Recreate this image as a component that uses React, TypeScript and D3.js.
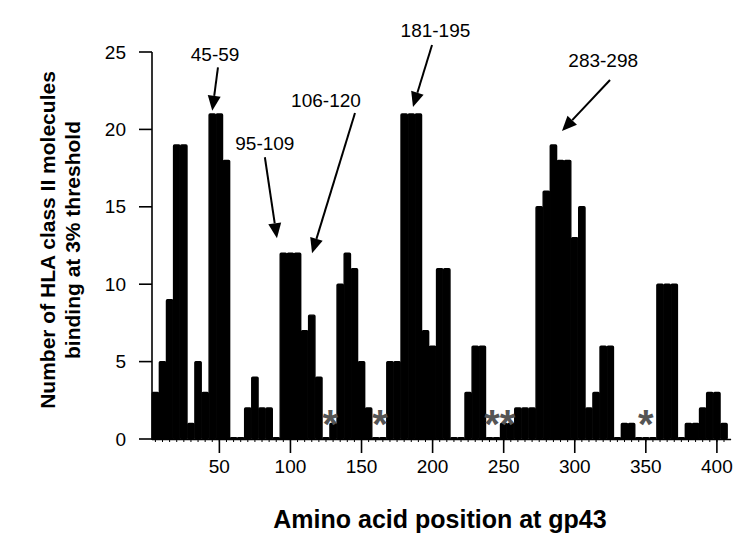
import * as d3 from "d3";

// ── Data: peptide start positions (every 5 aa) and binding counts ──
const positions = [
  5, 10, 15, 20, 25, 30, 35, 40, 45, 50, 55, 60, 65, 70, 75, 80, 85, 90, 95, 100,
  105, 110, 115, 120, 125, 130, 135, 140, 145, 150, 155, 160, 165, 170, 175, 180,
  185, 190, 195, 200, 205, 210, 215, 220, 225, 230, 235, 240, 245, 250, 255, 260,
  265, 270, 275, 280, 285, 290, 295, 300, 305, 310, 315, 320, 325, 330, 335, 340,
  345, 350, 355, 360, 365, 370, 375, 380, 385, 390, 395, 400, 405,
];
const counts = [
  3, 5, 9, 19, 19, 1, 5, 3, 21, 21, 18, 0, 0, 2, 4, 2, 2, 0, 12, 12,
  12, 7, 8, 4, 0, 1, 10, 12, 11, 5, 2, 0, 0, 5, 5, 21,
  21, 21, 7, 6, 11, 11, 0, 0, 3, 6, 6, 0, 0, 1, 1, 2,
  2, 2, 15, 16, 19, 18, 18, 13, 15, 2, 3, 6, 6, 0, 1, 1,
  0, 0, 0, 10, 10, 10, 0, 1, 1, 2, 3, 3, 1,
];
// asterisks (no binding peptide) at these positions
const starPositions = [128, 163, 241.8, 252.8, 350];

const xTicks = [50, 100, 150, 200, 250, 300, 350, 400];
const yTicks = [0, 5, 10, 15, 20, 25];

// annotated peptides: label, text anchor, arrow start and tip (data units)
const peptideLabels = ["45-59", "95-109", "106-120", "181-195", "283-298"];
const labelAt = [[47, 24.4], [82, 18.7], [125, 21.45], [202, 25.97], [320, 24.03]];
const arrowFrom = [[49, 24.0], [82, 18.2], [145.4, 21.06], [199.6, 25.45], [324.8, 23.19]];
const arrowTo = [[45, 21.2], [90.5, 12.97], [115.2, 12.0], [186.2, 21.44], [291, 19.89]];

// ── Layout ──
const W = 745;
const H = 544;
const X0 = 152;      // y axis line
const BASE = 439;    // x axis baseline
const FONT = "'Liberation Sans', Arial, Helvetica, sans-serif";
const STEP = 5;

const x = d3.scaleLinear().domain([0, 410]).range([148.3, 148.3 + 1.4215 * 410]);
const y = d3.scaleLinear().domain([0, 25]).range([BASE, 52]);

function Arrow({ from, to }: { from: number[]; to: number[] }) {
  const x1 = x(from[0]), y1 = y(from[1]);
  const x2 = x(to[0]), y2 = y(to[1]);
  const ang = Math.atan2(y2 - y1, x2 - x1);
  const L = 15, HW = 6.5;
  const bx = x2 - L * Math.cos(ang), by = y2 - L * Math.sin(ang);
  const px = -Math.sin(ang) * HW, py = Math.cos(ang) * HW;
  return (
    <g>
      <line x1={x1} y1={y1} x2={bx} y2={by} stroke="#000" strokeWidth={2} />
      <path d={`M${x2},${y2}L${bx + px},${by + py}L${bx - px},${by - py}Z`} fill="#000" />
    </g>
  );
}

export default function App() {
  const bars = positions.map((p, i) => ({ p, v: counts[i] }));
  const xEnd = x(410);

  return (
    <svg width={W} height={H} style={{ position: "absolute", left: 0, top: 0, background: "#fff" }}
      fontFamily={FONT}>
      {/* bars */}
      {bars.map(d => {
        const x0 = x(d.p - STEP / 2) + 0.4;
        const x1 = x(d.p + STEP / 2) - 0.4;
        const top = y(d.v);
        return (
          <rect key={d.p} x={x0} y={Math.min(top, BASE - 1.2)} width={x1 - x0}
            height={Math.max(BASE - top, 1.2)} fill="#000" stroke="#000"
            strokeWidth={1.4} strokeLinejoin="round" rx={1} />
        );
      })}

      {/* x axis baseline + dotted minor marks */}
      <line x1={X0} x2={xEnd} y1={BASE + 0.5} y2={BASE + 0.5} stroke="#000" strokeWidth={1.6} />
      {positions.map(p => (
        <line key={"m" + p} x1={x(p)} x2={x(p)} y1={BASE} y2={BASE + 3}
          stroke="#000" strokeWidth={1} />
      ))}
      {xTicks.map(t => (
        <g key={"xt" + t}>
          <line x1={x(t)} x2={x(t)} y1={BASE} y2={BASE + 14} stroke="#000" strokeWidth={1.6} />
          <text x={x(t)} y={BASE + 34} textAnchor="middle" fontSize={19} fill="#000">{t}</text>
        </g>
      ))}

      {/* y axis */}
      <line x1={X0} x2={X0} y1={y(25)} y2={BASE + 1} stroke="#000" strokeWidth={1.6} />
      {yTicks.map(t => (
        <g key={"yt" + t}>
          <line x1={X0 - 13} x2={X0} y1={y(t)} y2={y(t)} stroke="#000" strokeWidth={1.6} />
          <text x={X0 - 26} y={y(t)} dy="0.35em" textAnchor="end" fontSize={19} fill="#000">{t}</text>
        </g>
      ))}

      {/* asterisks */}
      {starPositions.map(s => (
        <text key={"s" + s} x={x(s)} y={BASE - 1} textAnchor="middle" fontSize={40}
          fontWeight="bold" fill="#555">*</text>
      ))}

      {/* annotations */}
      {peptideLabels.map((lab, i) => (
        <g key={lab}>
          <text x={x(labelAt[i][0])} y={y(labelAt[i][1])} textAnchor="middle" fontSize={19}
            fill="#000">{lab}</text>
          <Arrow from={arrowFrom[i]} to={arrowTo[i]} />
        </g>
      ))}

      {/* axis titles */}
      <text x={440} y={528} textAnchor="middle" fontSize={25} fontWeight="bold" fill="#000">
        Amino acid position at gp43
      </text>
      <g transform="translate(54.5,240) rotate(-90)">
        <text x={0} y={0} textAnchor="middle" fontSize={21} fontWeight="bold" fill="#000">
          Number of HLA class II molecules
        </text>
        <text x={0} y={25} textAnchor="middle" fontSize={21} fontWeight="bold" fill="#000">
          binding at 3% threshold
        </text>
      </g>
    </svg>
  );
}
